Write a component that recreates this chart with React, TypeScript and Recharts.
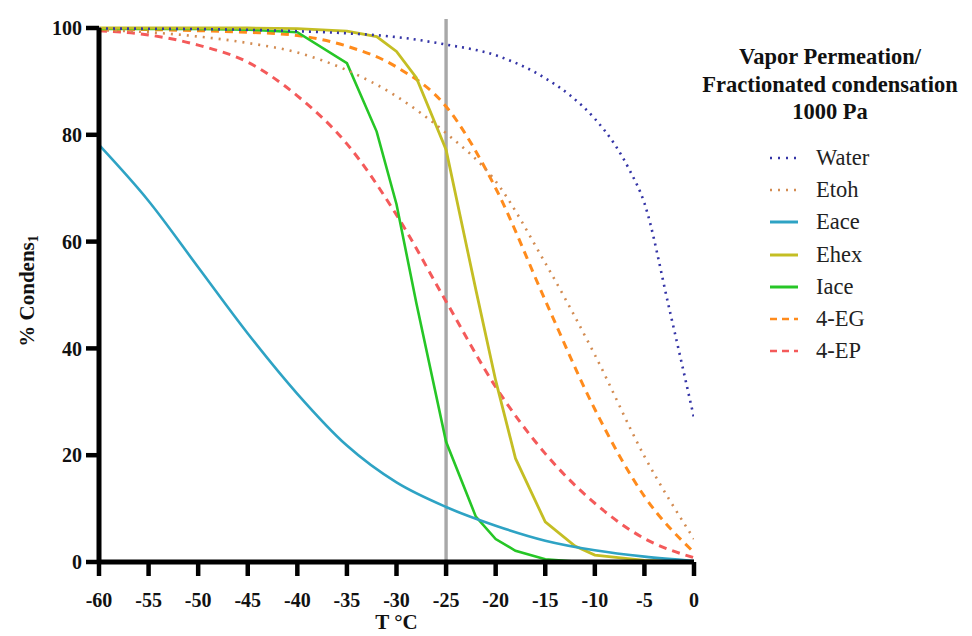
import { LineChart, Line, XAxis, YAxis, ReferenceLine } from "recharts";

// temperatures (°C)
const stepTemps = [-60, -55, -50, -45, -40, -35, -30, -25, -20, -15, -10, -5, 0];
const xTicks = [-60, -55, -50, -45, -40, -35, -30, -25, -20, -15, -10, -5, 0];
const yTicks = [0, 20, 40, 60, 80, 100];

// Water (dotted navy)
const waterTemps = [-60, -50, -40, -35, -30, -25, -20, -15, -12.5, -10, -8, -6.5, -5, -2.5, 0];
const waterPct = [99.9, 99.8, 99.4, 99.0, 98.3, 96.9, 94.9, 90.6, 87.4, 83, 78.2, 73.4, 67.2, 47.5, 27];

// Etoh (dotted tan)
const etohPct = [99.6, 99.2, 98.4, 97.2, 95.4, 92.1, 87.2, 80.3, 71.3, 56, 38.8, 19.8, 4.3];

// Eace (solid teal)
const eacePct = [78.1, 67.6, 55.2, 42.8, 31.5, 21.8, 14.9, 10.3, 6.8, 4.0, 2.2, 1.0, 0.2];

// Ehex (solid olive yellow)
const ehexTemps = [-60, -55, -50, -45, -40, -35, -32, -30, -28, -25, -22, -20, -18, -15, -12, -10, -5, 0];
const ehexPct = [100, 100, 100, 100, 99.9, 99.4, 98.4, 95.6, 90.7, 77.2, 51, 34, 19.4, 7.5, 3, 1.3, 0.3, 0];

// Iace (solid green)
const iaceTemps = [-60, -55, -50, -45, -40, -35, -32, -30, -28, -25, -22, -20, -18, -15, -12, -10, -5, 0];
const iacePct = [99.8, 99.8, 99.8, 99.7, 99.2, 93.4, 80.6, 67, 48.5, 22.5, 8.5, 4.3, 2.1, 0.5, 0.1, 0, 0, 0];

// 4-EG (dashed orange)
const egPct = [99.8, 99.7, 99.5, 99.2, 98.6, 96.6, 92.7, 85.3, 70, 49, 28.6, 12.3, 1.8];

// 4-EP (dashed red)
const epPct = [99.5, 98.7, 96.8, 93.6, 87.3, 78.3, 65, 48.8, 32.8, 20.3, 11, 4.4, 0.8];

const toPoints = (temps: number[], pct: number[]) => temps.map((x, i) => ({ x, y: pct[i] }));

const SERIES = [
  { name: "Water", data: toPoints(waterTemps, waterPct), color: "#3434A6", dash: "2 5", width: 2.6, curve: "monotone" },
  { name: "Etoh", data: toPoints(stepTemps, etohPct), color: "#D38C52", dash: "2 6", width: 2.6, curve: "monotone" },
  { name: "Eace", data: toPoints(stepTemps, eacePct), color: "#2EA3C4", dash: undefined, width: 2.6, curve: "monotone" },
  { name: "Ehex", data: toPoints(ehexTemps, ehexPct), color: "#C4BE24", dash: undefined, width: 2.8, curve: "linear" },
  { name: "Iace", data: toPoints(iaceTemps, iacePct), color: "#26C626", dash: undefined, width: 2.6, curve: "linear" },
  { name: "4-EG", data: toPoints(stepTemps, egPct), color: "#FF8B1C", dash: "8 6", width: 3, curve: "monotone" },
  { name: "4-EP", data: toPoints(stepTemps, epPct), color: "#F45A5A", dash: "8 6", width: 3, curve: "monotone" },
];

const FONT = "'Liberation Serif', 'Times New Roman', serif";

function YTitle({ viewBox }: any) {
  const x = viewBox.x + 19;
  const y = viewBox.y + viewBox.height / 2 - 4;
  return (
    <text
      x={x}
      y={y}
      transform={`rotate(-90, ${x}, ${y})`}
      textAnchor="middle"
      dominantBaseline="central"
      fontFamily={FONT}
      fontWeight="bold"
      fontSize={21}
      fill="#111"
    >
      % Condens
      <tspan fontSize={14} dy={6}>1</tspan>
    </text>
  );
}

function XTitle({ viewBox }: any) {
  return (
    <text
      x={viewBox.x + viewBox.width / 2}
      y={viewBox.y + 67}
      textAnchor="middle"
      fontFamily={FONT}
      fontWeight="bold"
      fontSize={21}
      fill="#111"
    >
      T °C
    </text>
  );
}

function LegendBox() {
  return (
    <>
      <div
        style={{
          position: "absolute",
          left: 680,
          top: 35,
          width: 284,
          textAlign: "center",
          whiteSpace: "nowrap",
          fontFamily: FONT,
          fontWeight: "bold",
          fontSize: 22.5,
          lineHeight: "27.5px",
          color: "#111",
        }}
      >
        Vapor Permeation/
        <br />
        Fractionated condensation
        <br />
        1000 Pa
      </div>
      <div style={{ position: "absolute", left: 762, top: 134 }}>
        {SERIES.map((s) => (
          <div key={s.name} style={{ display: "flex", alignItems: "center", height: 32.2 }}>
            <svg width={28} height={8} style={{ marginRight: 18 }}>
              <line
                x1={0}
                y1={4}
                x2={28}
                y2={4}
                stroke={s.color}
                strokeWidth={s.dash ? 2.4 : 3}
                strokeDasharray={s.dash ? (s.dash.startsWith("2") ? "2 6" : "7 5") : undefined}
              />
            </svg>
            <span style={{ fontFamily: FONT, fontSize: 22.5, color: "#222" }}>{s.name}</span>
          </div>
        ))}
      </div>
    </>
  );
}

export default function App() {
  const tickStyle = { fontFamily: FONT, fontWeight: "bold", fontSize: 20, fill: "#111" };
  return (
    <div style={{ position: "relative", width: 956, height: 628 }}>
      <LineChart width={956} height={628} margin={{ top: 20, right: 270, bottom: 16, left: 0 }}>
        <XAxis
          type="number"
          dataKey="x"
          domain={[-60, 0]}
          ticks={xTicks}
          interval={0}
          allowDataOverflow
          height={58}
          tickSize={14}
          tickMargin={17}
          axisLine={{ stroke: "#000", strokeWidth: 5 }}
          tickLine={{ stroke: "#000", strokeWidth: 4.5 }}
          tick={tickStyle}
          label={<XTitle />}
        />
        <YAxis
          type="number"
          domain={[0, 100]}
          ticks={yTicks}
          interval={0}
          width={91}
          tickSize={13}
          tickMargin={4}
          axisLine={{ stroke: "#000", strokeWidth: 5 }}
          tickLine={{ stroke: "#000", strokeWidth: 4.5 }}
          tick={tickStyle}
          label={<YTitle />}
        />
        <ReferenceLine
          x={-25}
          shape={(p: any) => (
            <line
              x1={p.x1}
              x2={p.x2}
              y1={Math.min(p.y1, p.y2) - 9}
              y2={Math.max(p.y1, p.y2)}
              stroke="#A8A8A8"
              strokeWidth={3.4}
            />
          )}
        />
        {[...SERIES].reverse().map((s) => (
          <Line
            key={s.name}
            data={s.data}
            dataKey="y"
            name={s.name}
            type={s.curve as any}
            stroke={s.color}
            strokeWidth={s.width}
            strokeDasharray={s.dash}
            dot={false}
            activeDot={false}
            isAnimationActive={false}
          />
        ))}
      </LineChart>
      <LegendBox />
    </div>
  );
}
